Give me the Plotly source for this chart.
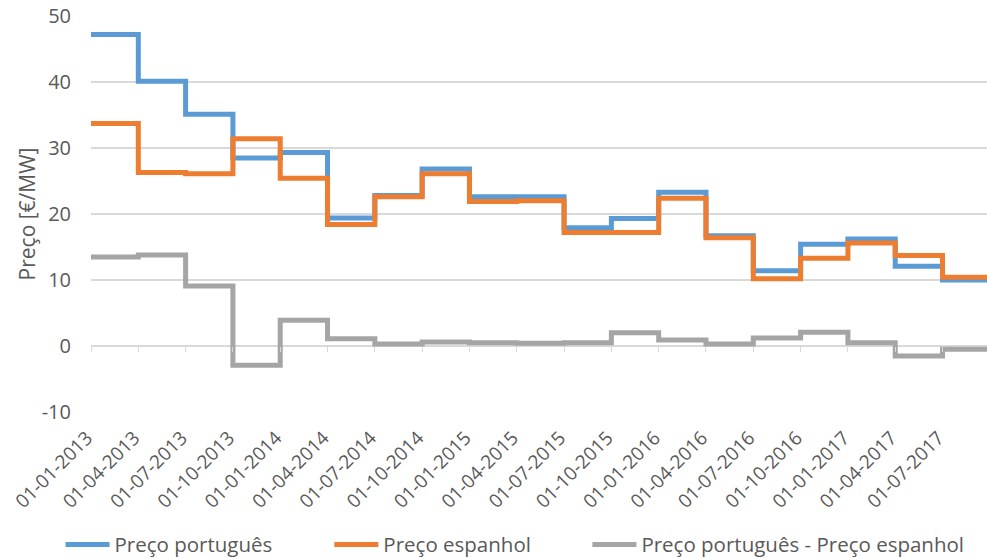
import plotly.graph_objects as go

# quarterly prices (start of each quarter)
quarters = ['01-01-2013', '01-04-2013', '01-07-2013', '01-10-2013',
            '01-01-2014', '01-04-2014', '01-07-2014', '01-10-2014',
            '01-01-2015', '01-04-2015', '01-07-2015', '01-10-2015',
            '01-01-2016', '01-04-2016', '01-07-2016', '01-10-2016',
            '01-01-2017', '01-04-2017', '01-07-2017']

preco_pt = [47.2, 40.1, 35.1, 28.5, 29.3, 19.4, 22.8, 26.8, 22.6, 22.6,
            17.9, 19.3, 23.3, 16.7, 11.4, 15.4, 16.2, 12.1, 10.0]
preco_es = [33.7, 26.3, 26.1, 31.4, 25.4, 18.4, 22.6, 26.1, 21.9, 22.0,
            17.2, 17.2, 22.4, 16.4, 10.2, 13.3, 15.6, 13.7, 10.4]
diferenca = [13.5, 13.8, 9.1, -2.9, 3.9, 1.1, 0.3, 0.6, 0.5, 0.4,
             0.5, 2.0, 0.9, 0.3, 1.2, 2.1, 0.5, -1.5, -0.5]

y_ticks = [-10, 0, 10, 20, 30, 40, 50]

txt = '#595959'
grid = '#D9D9D9'
font = 'Open Sans'

# step positions: each quarter is one unit wide, last value held to the end
xs = list(range(len(quarters) + 1))


def steps(vals):
    return vals + [vals[-1]]


# one legend per series so each can sit where the original puts it
series = [
    ('Preço português', preco_pt, '#5B9BD5', 'legend', -0.034),
    ('Preço espanhol', preco_es, '#ED7D31', 'legend2', 0.266),
    ('Preço português - Preço espanhol', diferenca, '#A5A5A5', 'legend3', 0.554),
]

fig = go.Figure()
for name, vals, color, leg, _ in series:
    fig.add_trace(go.Scatter(
        x=xs, y=steps(vals), mode='lines', name=name, legend=leg,
        line=dict(color=color, width=5, shape='hv'),
    ))

# invisible trace just to carry the axis drawn at y = 0 (tick marks)
fig.add_trace(go.Scatter(x=[0], y=[0], xaxis='x2', mode='lines',
                         showlegend=False, hoverinfo='skip',
                         line=dict(width=0)))

x_end = len(quarters) - 0.06

legends = {}
for _, _, _, leg, lx in series:
    legends[leg] = dict(orientation='h', x=lx, xanchor='left',
                        y=-0.335, yanchor='middle',
                        font=dict(size=20.5, color=txt), itemwidth=44)

fig.update_layout(
    width=987, height=559,
    margin=dict(l=91, r=0, t=16, b=147, autoexpand=False),
    plot_bgcolor='white', paper_bgcolor='white',
    font=dict(family=font, size=18, color=txt),
    showlegend=True,
    **legends,
    xaxis=dict(range=[0, x_end], tickmode='array',
               tickvals=list(range(len(quarters))), ticktext=quarters,
               tickangle=-45, showgrid=False, zeroline=False,
               showline=False, ticks='', tickfont=dict(size=19),
               ticklabelstandoff=10, ticklabelshift=-4, automargin=False),
    xaxis2=dict(overlaying='x', anchor='free', position=1 / 6,
                range=[0, x_end], tickmode='array',
                tickvals=list(range(len(quarters))),
                showticklabels=False, showgrid=False, zeroline=False,
                showline=False, ticks='outside', ticklen=5,
                tickcolor=grid, tickwidth=1, automargin=False),
    yaxis=dict(range=[-10, 50], tickmode='array', tickvals=y_ticks,
               ticktext=[str(v) for v in y_ticks], showgrid=True,
               gridcolor=grid, gridwidth=1.5, zeroline=False,
               showline=False, ticks='', ticklabelstandoff=19,
               tickfont=dict(size=20), automargin=False,
               title=dict(text='Preço [€/MW]', standoff=0,
                          font=dict(size=21, color=txt))),
)

fig.write_html("out.html", config={'displayModeBar': False},
               post_script="document.body.style.margin='0';")
